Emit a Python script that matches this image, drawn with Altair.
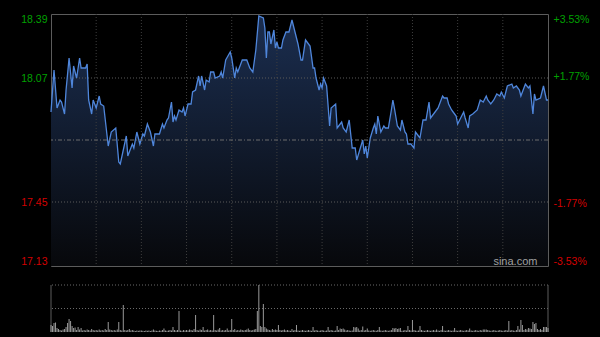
import altair as alt
import pandas as pd

# ---- data (minute of session, price) ----
minutes = [0, 2, 4, 6, 7, 9, 10, 12, 14, 15, 17, 19, 20, 23, 24, 25, 27, 28, 30, 32,
           33, 35, 38, 40, 43, 45, 46, 48, 50, 51, 54, 55, 57, 59, 61, 62, 64, 66, 68, 69,
           72, 74, 75, 77, 78, 80, 81, 82, 83, 85, 87, 88, 89, 91, 93, 94, 96, 98, 99, 100,
           102, 103, 105, 106, 108, 109, 112, 113, 114, 116, 119, 120, 122, 123, 124, 127, 130, 132, 134, 136,
           138, 141, 142, 143, 144, 145, 146, 148, 149, 150, 151, 153, 154, 156, 158, 160, 162, 164, 166, 167,
           169, 170, 172, 174, 175, 176, 178, 179, 180, 181, 183, 185, 186, 189, 190, 191, 193, 194, 196, 198,
           200, 202, 203, 205, 207, 208, 209, 210, 212, 214, 215, 216, 217, 219, 221, 222, 224, 226, 227, 228,
           230, 232, 233, 235, 236, 237, 239, 241, 242, 244, 245, 247, 249, 251, 252, 253, 255, 257, 258, 260,
           261, 263, 264, 266, 267, 269, 270, 272, 274, 275, 277, 278, 280, 283, 285, 287, 289, 290, 292, 294,
           296, 298, 299, 301, 303, 306, 307, 309, 311, 312, 314, 315, 317, 318, 320, 321, 322, 325, 327, 329,
           330]
prices = [17.90, 18.11, 17.92, 17.96, 17.95, 17.89, 18.01, 18.17, 18.02, 18.13, 18.07, 18.17, 18.12, 18.12, 18.14, 17.96, 17.89, 17.96, 17.92, 17.98,
          17.94, 17.93, 17.73, 17.80, 17.82, 17.65, 17.64, 17.71, 17.78, 17.68, 17.74, 17.72, 17.80, 17.74, 17.79, 17.78, 17.84, 17.80, 17.73, 17.79,
          17.79, 17.84, 17.82, 17.86, 17.87, 17.95, 17.85, 17.88, 17.86, 17.91, 17.90, 17.92, 17.88, 17.94, 17.94, 18.00, 18.01, 18.08, 18.03, 18.08,
          18.01, 18.06, 18.05, 18.10, 18.10, 18.07, 18.08, 18.10, 18.07, 18.16, 18.20, 18.17, 18.07, 18.12, 18.10, 18.16, 18.16, 18.12, 18.10, 18.21,
          18.38, 18.37, 18.32, 18.17, 18.30, 18.30, 18.24, 18.31, 18.22, 18.25, 18.22, 18.22, 18.26, 18.30, 18.30, 18.36, 18.30, 18.24, 18.16, 18.16,
          18.26, 18.25, 18.23, 18.12, 18.12, 18.07, 18.01, 18.04, 18.02, 18.07, 18.03, 17.83, 17.92, 17.94, 17.82, 17.83, 17.85, 17.82, 17.80, 17.86,
          17.72, 17.72, 17.66, 17.71, 17.76, 17.69, 17.73, 17.67, 17.77, 17.82, 17.84, 17.79, 17.88, 17.80, 17.83, 17.82, 17.82, 17.91, 17.96, 17.92,
          17.83, 17.81, 17.86, 17.80, 17.79, 17.74, 17.74, 17.72, 17.80, 17.78, 17.77, 17.86, 17.86, 17.95, 17.87, 17.88, 17.90, 17.92, 17.94, 17.98,
          17.97, 17.97, 17.94, 17.91, 17.90, 17.88, 17.84, 17.87, 17.90, 17.87, 17.82, 17.88, 17.89, 17.91, 17.96, 17.95, 17.98, 17.96, 17.94, 17.96,
          17.99, 17.98, 18.00, 17.97, 18.03, 18.04, 18.02, 18.03, 18.01, 17.98, 18.02, 18.04, 18.02, 18.03, 17.89, 17.99, 17.96, 17.97, 18.03, 17.96,
          17.96]

# per-minute volume (arbitrary units)
volume = [70, 60, 90, 95, 40, 30, 20, 15, 25, 30, 50, 90, 130, 110, 60, 40, 45, 20, 50, 25, 40, 15, 20, 15, 25, 20, 15, 30, 20, 15,
          20, 15, 25, 15, 20, 15, 30, 20, 100, 25, 20, 15, 20, 15, 25, 100, 20, 15, 270, 20, 15, 20, 30, 15, 20, 15, 10, 15, 12, 15,
          15, 12, 10, 15, 12, 15, 10, 15, 25, 15, 12, 10, 15, 12, 20, 35, 15, 12, 15, 20, 15, 50, 20, 15, 20, 210, 15, 12, 20, 15,
          20, 15, 25, 20, 15, 30, 170, 20, 15, 25, 20, 50, 15, 20, 25, 15, 20, 15, 170, 20, 15, 25, 40, 15, 20, 15, 20, 35, 15, 20,
          130, 20, 30, 15, 20, 15, 25, 20, 15, 20, 25, 35, 20, 15, 20, 25, 30, 210, 470, 60, 50, 280, 50, 35, 25, 20, 15, 30, 20, 25,
          20, 70, 20, 15, 20, 25, 15, 20, 15, 12, 30, 15, 20, 70, 15, 12, 15, 20, 15, 12, 15, 20, 15, 12, 50, 15, 20, 15, 12, 15,
          20, 15, 12, 15, 50, 15, 20, 15, 12, 15, 60, 20, 35, 30, 35, 25, 15, 20, 15, 12, 15, 50, 45, 50, 35, 15, 20, 55, 15, 20,
          35, 15, 12, 15, 20, 15, 12, 20, 50, 15, 12, 15, 20, 15, 12, 15, 20, 40, 35, 40, 30, 35, 40, 12, 15, 20, 15, 60, 20, 15,
          120, 20, 15, 12, 15, 60, 20, 15, 12, 15, 20, 15, 12, 15, 20, 15, 25, 15, 12, 20, 60, 15, 12, 15, 20, 15, 12, 15, 40, 15,
          12, 15, 20, 15, 12, 15, 20, 15, 35, 15, 12, 15, 20, 15, 12, 20, 15, 25, 25, 25, 20, 15, 12, 15, 20, 15, 12, 15, 20, 15,
          12, 15, 20, 15, 110, 15, 20, 15, 12, 20, 60, 25, 120, 70, 20, 30, 25, 40, 35, 30, 100, 80, 90, 30, 20, 30, 20, 50, 50, 50,
          40]

prev_close = 17.76
session_domain = [0, 330]
price_domain = [17.13, 18.39]
pct_domain = [-3.53, 3.53]
left_ticks = [18.39, 18.07, 17.45, 17.13]
right_ticks = [3.53, 1.77, -1.77, -3.53]
hgrid_prices = [18.07, 17.45]
grid_minutes = [30, 60, 90, 120, 150, 180, 210, 240, 270, 300]
vol_domain = [0, 470]
vol_grid = [235, 470]
watermark = "sina.com"

FONT = "Liberation Sans"
GREEN = "#00a000"
RED = "#d40000"

price_df = pd.DataFrame({"t": minutes, "p": prices})
vol_df = pd.DataFrame({"t": list(range(len(volume))), "v": volume})

xs = alt.Scale(domain=session_domain, nice=False, zero=False)
ys = alt.Scale(domain=price_domain, nice=False, zero=False)


def left_axis():
    return alt.Axis(values=left_ticks, format=".2f", labelFlush=True, ticks=False, domain=False,
                    grid=False, title=None, labelFont=FONT, labelFontSize=10.5, labelPadding=4,
                    labelColor=alt.condition(f"datum.value > {prev_close}", alt.value(GREEN), alt.value(RED)))


right_axis = alt.Axis(values=right_ticks, orient="right", labelFlush=True, ticks=False, domain=False,
                      grid=False, title=None, labelFont=FONT, labelFontSize=10.5, labelPadding=5,
                      labelExpr="(datum.value > 0 ? '+' : '-') + format(abs(datum.value), '.2f') + '%'",
                      labelColor=alt.condition("datum.value > 0", alt.value(GREEN), alt.value(RED)))

area = alt.Chart(price_df).mark_area(
    color=alt.Gradient(gradient="linear",
                       stops=[alt.GradientStop(color="#1b2e50", offset=0),
                              alt.GradientStop(color="#07080b", offset=1)],
                       x1=1, x2=1, y1=0, y2=1)
).encode(x=alt.X("t:Q", scale=xs, axis=None),
         y=alt.Y("p:Q", scale=ys, axis=left_axis()),
         y2=alt.datum(price_domain[0]))

vgrid = alt.Chart(pd.DataFrame({"g": grid_minutes})).mark_rule(
    color="#3e3e3e", strokeDash=[1, 2]).encode(x=alt.X("g:Q", scale=xs, axis=None))

hgrid = alt.Chart(pd.DataFrame({"h": hgrid_prices})).mark_rule(
    color="#5a5a5a", strokeDash=[1, 2]).encode(y=alt.Y("h:Q", scale=ys, axis=left_axis()))

line = alt.Chart(price_df).mark_line(color="#4f86db", strokeWidth=1.3).encode(
    x=alt.X("t:Q", scale=xs, axis=None), y=alt.Y("p:Q", scale=ys, axis=left_axis()))

wm = alt.Chart(pd.DataFrame({"txt": [watermark]})).mark_text(
    align="right", baseline="middle", font=FONT, fontSize=11, color="#a0a0a0"
).encode(x=alt.datum(323, scale=xs, axis=None),
         y=alt.datum(17.151, scale=ys, axis=left_axis()), text="txt:N")

mid = alt.Chart(pd.DataFrame({"pct": [0.0]})).mark_rule(
    color="#6c6c6c", strokeDash=[4, 2, 1, 2]).encode(
    y=alt.Y("pct:Q", scale=alt.Scale(domain=pct_domain, nice=False, zero=False), axis=right_axis))

price_layers = alt.layer(area, vgrid, hgrid, line, wm)
main = alt.layer(price_layers, mid).resolve_scale(y="independent").properties(
    width=497, height=252, view=alt.ViewBackground(stroke="#5c5c5c", strokeWidth=1))

vs = alt.Scale(domain=vol_domain, nice=False, zero=True)
vol_grid_layer = alt.Chart(pd.DataFrame({"h": vol_grid})).mark_rule(
    color="#6a6a6a", strokeDash=[1, 2]).encode(y=alt.Y("h:Q", scale=vs, axis=None))
vol_edges = alt.Chart(pd.DataFrame({"e": session_domain})).mark_rule(
    color="#5c5c5c").encode(x=alt.X("e:Q", scale=xs, axis=None))
vol_bars = alt.Chart(vol_df).mark_rule(color="#9a9a9a", strokeWidth=1).encode(
    x=alt.X("t:Q", scale=xs, axis=None),
    y=alt.Y("v:Q", scale=vs, axis=None),
    y2=alt.datum(0))

vol = alt.layer(vol_grid_layer, vol_edges, vol_bars).properties(
    width=497, height=47, view=alt.ViewBackground(stroke=None))

chart = alt.vconcat(main, vol, spacing=16).properties(
    background="#000000",
    padding={"left": 20, "top": 12, "right": 10, "bottom": 4})

chart.save("out.html", embed_options={"renderer": "svg", "actions": False})
